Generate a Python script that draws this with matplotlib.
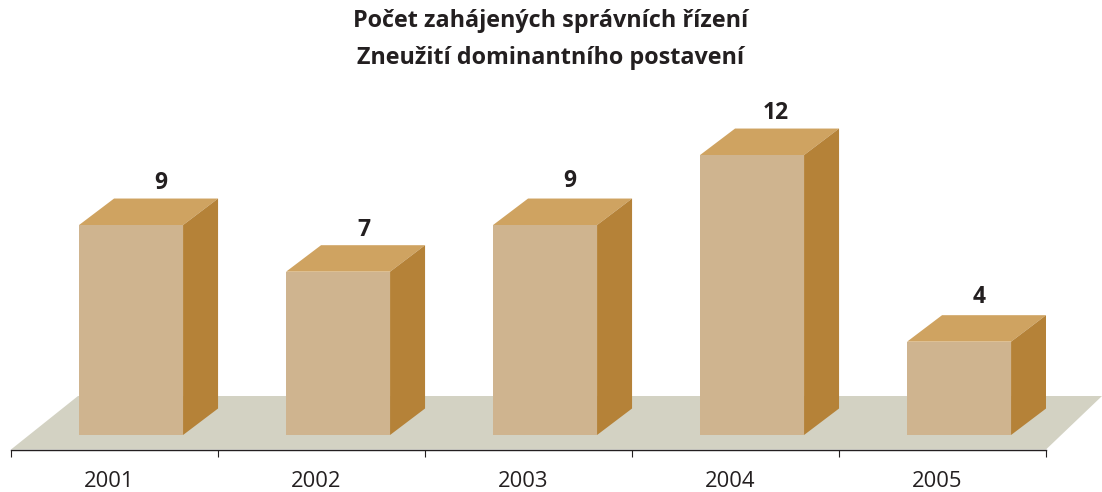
import matplotlib;matplotlib.use("Agg")
import matplotlib.pyplot as plt
from matplotlib.patches import Polygon

# Chart data
years = ["2001", "2002", "2003", "2004", "2005"]
counts = [9, 7, 9, 12, 4]
title_lines = ["Počet zahájených správních řízení", "Zneužití dominantního postavení"]

# Figure geometry, pixels
FIG_W, FIG_H = 1102, 492
AXIS_LEFT, AXIS_RIGHT = 11, 1046
AXIS_Y = 449.5
BASE_Y = 435
PX_PER_X = (AXIS_RIGHT - AXIS_LEFT) / len(years)
PX_PER_Y = 23.33

# Bar shape in data units
BAR_CENTER = 0.58
BAR_WIDTH = 104 / PX_PER_X
DEPTH_X = 35 / PX_PER_X
DEPTH_Y = 26.5 / PX_PER_Y
LABEL_DX = [30, 26, 25, 24, 20]  # pixels
LABEL_DY = [42, 42, 44, 42, 45]  # pixels

FRONT_COLOR = "#CFB48F"
TOP_COLOR = "#CFA361"
SIDE_COLOR = "#B58238"
FLOOR_COLOR = "#D3D2C3"
TEXT_COLOR = "#231F20"
FONT = "Open Sans"


def setup_plot():
  fig = plt.figure(figsize=(FIG_W / 100, FIG_H / 100), dpi=100)
  ymax = 14
  ymin = -(AXIS_Y - BASE_Y) / PX_PER_Y
  height = (ymax - ymin) * PX_PER_Y
  ax = fig.add_axes([AXIS_LEFT / FIG_W, (FIG_H - AXIS_Y) / FIG_H,
                     (AXIS_RIGHT - AXIS_LEFT) / FIG_W, height / FIG_H])
  ax.set_xlim(0, len(years))
  ax.set_ylim(ymin, ymax)
  ax.patch.set_alpha(0)

  for side in ["top", "left", "right"]:
    ax.spines[side].set_visible(False)
  ax.spines["bottom"].set_color(TEXT_COLOR)
  ax.spines["bottom"].set_linewidth(1.0)
  ax.yaxis.set_visible(False)

  # Group borders as major ticks, year labels as minor ticks
  ax.set_xticks(range(len(years) + 1))
  ax.set_xticklabels([])
  ax.set_xticks([i + 0.473 for i in range(len(years))], labels=years, minor=True)
  ax.tick_params(axis="x", which="major", length=5, width=0.8, color=TEXT_COLOR)
  ax.tick_params(axis="x", which="minor", length=0, pad=15.2, labelsize=15.8,
                 labelcolor=TEXT_COLOR)
  for label in ax.get_xticklabels(minor=True):
    label.set_family(FONT)

  return fig, ax, ymin


def draw_floor(ax, ymin):
  floor_top = (BASE_Y - 396) / PX_PER_Y
  floor = Polygon([(0, ymin), (67 / PX_PER_X, floor_top),
                   ((FIG_W - AXIS_LEFT) / PX_PER_X, floor_top), (len(years), ymin)],
                  closed=True, facecolor=FLOOR_COLOR, edgecolor="none",
                  clip_on=False, zorder=1)
  ax.add_patch(floor)


def draw_bars(ax):
  for i, value in enumerate(counts):
    left = i + BAR_CENTER - BAR_WIDTH / 2
    right = left + BAR_WIDTH
    ax.bar(left, value, width=BAR_WIDTH, align="edge", color=FRONT_COLOR, zorder=3)
    top = Polygon([(left, value), (right, value),
                   (right + DEPTH_X, value + DEPTH_Y), (left + DEPTH_X, value + DEPTH_Y)],
                  closed=True, facecolor=TOP_COLOR, edgecolor="none", zorder=2)
    side = Polygon([(right, 0), (right + DEPTH_X, DEPTH_Y),
                    (right + DEPTH_X, value + DEPTH_Y), (right, value)],
                   closed=True, facecolor=SIDE_COLOR, edgecolor="none", zorder=2)
    ax.add_patch(top)
    ax.add_patch(side)
    ax.annotate(str(value), (i + BAR_CENTER, value),
                xytext=(LABEL_DX[i] * 0.72, LABEL_DY[i] * 0.72),
                textcoords="offset points", ha="center", va="center",
                family=FONT, fontweight="bold", fontsize=16.5, color=TEXT_COLOR)


def main():
  fig, ax, ymin = setup_plot()
  draw_floor(ax, ymin)
  draw_bars(ax)
  fig.text(551 / FIG_W, 1 - 21 / FIG_H, title_lines[0], ha="center", va="center",
           family=FONT, fontweight="bold", fontsize=16.8, color=TEXT_COLOR)
  fig.text(551 / FIG_W, 1 - 58 / FIG_H, title_lines[1], ha="center", va="center",
           family=FONT, fontweight="bold", fontsize=16.8, color=TEXT_COLOR)
  fig.savefig("out.png", dpi=100)


if __name__ == "__main__":
  main()
